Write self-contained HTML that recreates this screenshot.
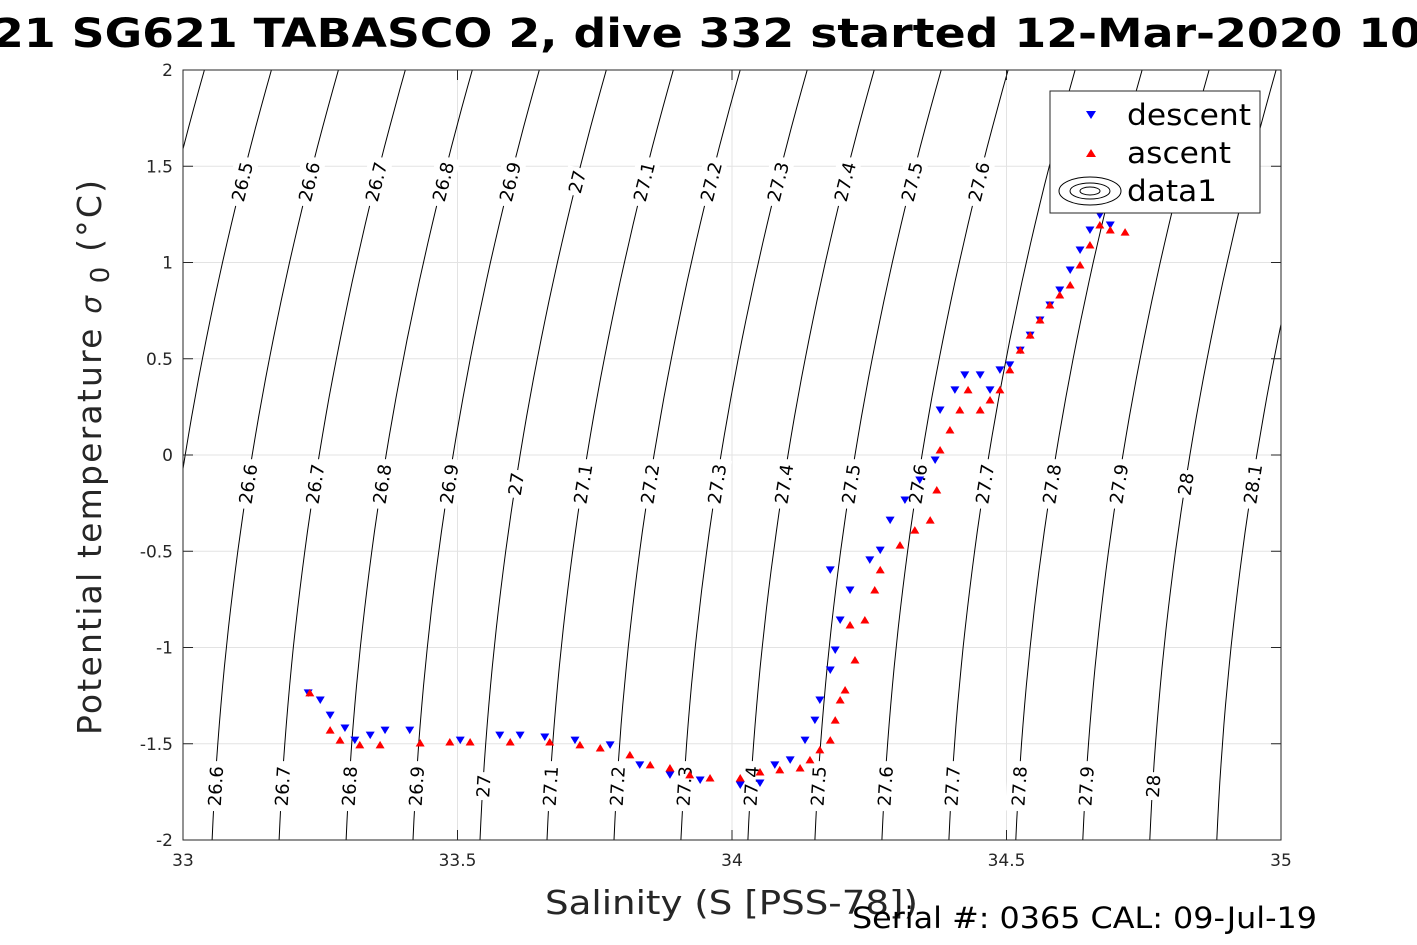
<!DOCTYPE html>
<html><head><meta charset="utf-8"><style>
html,body{margin:0;padding:0;background:#fff;}
svg{display:block;font-family:"DejaVu Sans","Liberation Sans",sans-serif;}
</style></head><body>
<svg id="chart" width="1417" height="945" viewBox="0 0 1417 945" xmlns="http://www.w3.org/2000/svg">
<defs><clipPath id="pc"><rect x="183" y="70" width="1098" height="770"/></clipPath></defs>
<text x="-8" y="47" font-size="40" font-weight="bold" textLength="1430" lengthAdjust="spacingAndGlyphs">21 SG621 TABASCO 2, dive 332 started 12-Mar-2020 10</text>
<rect x="183" y="70" width="1098" height="770" fill="#fff"/>
<g id="grid"></g>
<g id="contours" clip-path="url(#pc)"></g>
<g id="clabels"></g>
<g id="desc" clip-path="url(#pc)"></g>
<g id="asc" clip-path="url(#pc)"></g>
<rect x="183" y="70" width="1098" height="770" fill="none" stroke="#262626" stroke-width="1"/>
<g id="ticks"></g>
<g>
<rect x="1050" y="91" width="210" height="122" fill="#fff" stroke="#262626" stroke-width="1"/>
<path d="M1086,111 l10,0 l-5,8 z" fill="#00f"/>
<text x="1127" y="125" font-size="29" textLength="124" lengthAdjust="spacingAndGlyphs">descent</text>
<path d="M1086,157 l10,0 l-5,-8 z" fill="#f00"/>
<text x="1127" y="163" font-size="29" textLength="104" lengthAdjust="spacingAndGlyphs">ascent</text>
<ellipse cx="1090" cy="191" rx="31" ry="14" fill="none" stroke="#000"/>
<ellipse cx="1090" cy="191" rx="20" ry="8" fill="none" stroke="#000"/>
<ellipse cx="1090" cy="191" rx="10" ry="4" fill="none" stroke="#000"/>
<text x="1127" y="201" font-size="29" textLength="90" lengthAdjust="spacingAndGlyphs">data1</text>
</g>
<text x="545" y="914" font-size="33" fill="#262626" textLength="373" lengthAdjust="spacingAndGlyphs">Salinity (S [PSS-78])</text>
<text transform="translate(101,735) rotate(-90)" font-size="33" fill="#262626" textLength="555" lengthAdjust="spacing">Potential temperature <tspan font-style="italic" font-size="28">σ</tspan><tspan font-size="26" dy="8"> 0</tspan><tspan dy="-8"> (°C)</tspan></text>
<text x="852" y="928" font-size="29" textLength="465" lengthAdjust="spacingAndGlyphs">Serial #: 0365  CAL: 09-Jul-19</text>
</svg>
<script>
const xTicks=[33,33.5,34,34.5,35];
const yTicks=[-2,-1.5,-1,-0.5,0,0.5,1,1.5,2];
const yTickLabels=["-2","-1.5","-1","-0.5","0","0.5","1","1.5","2"];
const sigmaLevels=[26.2,26.3,26.4,26.5,26.6,26.7,26.8,26.9,27,27.1,27.2,27.3,27.4,27.5,27.6,27.7,27.8,27.9,28,28.1,28.2];
const labelsBottom=[26.6,26.7,26.8,26.9,27,27.1,27.2,27.3,27.4,27.5,27.6,27.7,27.8,27.9,28];
const labelsMiddle=[26.5,26.6,26.7,26.8,26.9,27,27.1,27.2,27.3,27.4,27.5,27.6,27.7,27.8,27.9,28,28.1];
const labelsTop=[26.5,26.6,26.7,26.8,26.9,27,27.1,27.2,27.3,27.4,27.5,27.6,28];
const descS=[33.228,33.250,33.268,33.295,33.313,33.341,33.368,33.413,33.505,33.577,33.614,33.659,33.714,33.778,33.832,33.887,33.942,34.015,34.051,34.078,34.106,34.133,34.151,34.160,34.179,34.188,34.197,34.179,34.215,34.251,34.270,34.288,34.315,34.342,34.370,34.379,34.406,34.424,34.452,34.470,34.488,34.506,34.525,34.543,34.561,34.579,34.597,34.616,34.634,34.652,34.670,34.689];
const descT=[-1.236,-1.273,-1.351,-1.418,-1.481,-1.455,-1.429,-1.429,-1.481,-1.455,-1.455,-1.465,-1.481,-1.506,-1.610,-1.662,-1.688,-1.714,-1.704,-1.610,-1.584,-1.481,-1.377,-1.273,-1.117,-1.013,-0.857,-0.597,-0.701,-0.545,-0.494,-0.338,-0.234,-0.130,-0.026,0.234,0.338,0.416,0.416,0.338,0.442,0.468,0.545,0.623,0.701,0.779,0.857,0.961,1.065,1.169,1.247,1.195];
const ascS=[33.231,33.268,33.286,33.322,33.359,33.432,33.486,33.523,33.596,33.668,33.723,33.760,33.814,33.851,33.887,33.923,33.960,34.015,34.051,34.087,34.124,34.142,34.160,34.179,34.188,34.197,34.206,34.224,34.215,34.242,34.260,34.270,34.306,34.333,34.361,34.373,34.379,34.397,34.415,34.430,34.452,34.470,34.488,34.506,34.525,34.543,34.561,34.579,34.597,34.616,34.634,34.652,34.670,34.689,34.716];
const ascT=[-1.236,-1.429,-1.481,-1.506,-1.506,-1.496,-1.491,-1.491,-1.491,-1.491,-1.506,-1.522,-1.558,-1.610,-1.626,-1.662,-1.678,-1.678,-1.647,-1.636,-1.626,-1.584,-1.532,-1.481,-1.377,-1.273,-1.221,-1.065,-0.883,-0.857,-0.701,-0.597,-0.468,-0.390,-0.338,-0.182,0.026,0.130,0.234,0.338,0.234,0.286,0.338,0.442,0.545,0.623,0.701,0.779,0.831,0.883,0.987,1.091,1.195,1.169,1.158];

const NS="http://www.w3.org/2000/svg";
const X0=183,X1=1281,Y0=840,Y1=70;
function xs(s){return X0+(s-33)/2*(X1-X0);}
function ys(t){return Y0-(t+2)/4*(Y0-Y1);}
function sOn(sig,t){const u=t+2;return 33.053+(sig-26.6)*1.22+0.0155*u+0.0105*u*u;}
function dS(t){return 0.0155+0.021*(t+2);}
function mk(tag,attrs,parent){const e=document.createElementNS(NS,tag);for(const k in attrs)e.setAttribute(k,attrs[k]);parent.appendChild(e);return e;}

const grid=document.getElementById('grid'),ticks=document.getElementById('ticks');
xTicks.forEach((v,i)=>{const x=xs(v);
 const g=mk('line',{x1:x,x2:x,y1:Y1,y2:Y0,stroke:'#e3e3e3','stroke-width':1},grid);
 
 mk('line',{x1:x,x2:x,y1:Y0,y2:Y0-10,stroke:'#262626'},ticks);
 mk('line',{x1:x,x2:x,y1:Y1,y2:Y1+10,stroke:'#262626'},ticks);
 const t=mk('text',{x:x,y:866,'font-size':17,'text-anchor':'middle',fill:'#262626'},ticks);t.textContent=String(v);
 });
yTicks.forEach((v,i)=>{const y=ys(v);
 const g=mk('line',{x1:X0,x2:X1,y1:y,y2:y,stroke:'#e3e3e3','stroke-width':1},grid);
 
 mk('line',{x1:X0,x2:X0+10,y1:y,y2:y,stroke:'#262626'},ticks);
 mk('line',{x1:X1,x2:X1-10,y1:y,y2:y,stroke:'#262626'},ticks);
 const t=mk('text',{x:173,y:y+6,'font-size':17,'text-anchor':'end',fill:'#262626'},ticks);t.textContent=yTickLabels[i];
 });

const cg=document.getElementById('contours');
sigmaLevels.forEach(sig=>{let d='';for(let k=0;k<=40;k++){const t=-2+k*0.1;d+=(k?'L':'M')+xs(sOn(sig,t)).toFixed(1)+','+ys(t).toFixed(1);}
 const p=mk('path',{d:d,fill:'none',stroke:'#000','stroke-width':1},cg);
 });
const lg=document.getElementById('clabels');
function putLabels(arr,t){arr.forEach(sig=>{const x=xs(sOn(sig,t)),y=ys(t);if(x<X0+5||x>X1)return;
 const ang=-Math.atan2(192.5,dS(t)*549)*180/Math.PI;
 const g=mk('g',{transform:`translate(${x},${y}) rotate(${ang})`},lg);
 
 const txt=String(sig);const w=txt.length*11+6;
 mk('rect',{x:-w/2,y:-12,width:w,height:24,fill:'#fff'},g);
 const tt=mk('text',{x:0,y:7,'font-size':18,'text-anchor':'middle',fill:'#000'},g);tt.textContent=txt;});}
putLabels(labelsBottom,-1.72);
putLabels(labelsMiddle,-0.15);
putLabels(labelsTop,1.42);

const dg=document.getElementById('desc'),ag=document.getElementById('asc');
descS.forEach((s,i)=>{const x=xs(s),y=ys(descT[i]);
 const p=mk('path',{d:`M${x-4.5},${y-3.5} L${x+4.5},${y-3.5} L${x},${y+4} Z`,fill:'#00f'},dg);
 });
ascS.forEach((s,i)=>{const x=xs(s),y=ys(ascT[i]);
 const p=mk('path',{d:`M${x-4.5},${y+3.5} L${x+4.5},${y+3.5} L${x},${y-4} Z`,fill:'#f00'},ag);
 });
</script>
</body></html>
